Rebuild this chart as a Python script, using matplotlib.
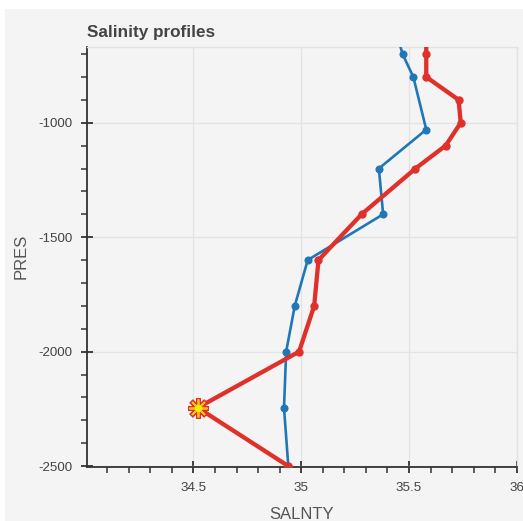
import matplotlib
matplotlib.use("Agg")
import matplotlib.pyplot as plt
from matplotlib.patches import Rectangle
from matplotlib.ticker import MultipleLocator

# salinity profiles (pressure negative = depth)
blue_pres = [-600, -700, -800, -1030, -1200, -1400, -1600, -1800, -2000, -2245, -2500]
blue_sal = [35.44, 35.47, 35.52, 35.58, 35.36, 35.38, 35.03, 34.97, 34.93, 34.92, 34.94]

red_pres = [-600, -700, -800, -900, -1000, -1100, -1200, -1400, -1600, -1800, -2000, -2245, -2500]
red_sal = [35.58, 35.58, 35.58, 35.73, 35.74, 35.67, 35.53, 35.28, 35.08, 35.06, 34.99, 34.52, 34.94]

# flagged sample
flag_sal = [34.52]
flag_pres = [-2245]

plt.rcParams["font.family"] = ["Liberation Sans", "DejaVu Sans"]
plt.rcParams["axes.unicode_minus"] = False

W, H = 523, 521
fig = plt.figure(figsize=(W / 100, H / 100), dpi=100)
fig.patch.set_facecolor("white")
fig.patches.append(Rectangle((5 / W, 0), 1, (H - 9) / H, transform=fig.transFigure,
                             facecolor="#f4f4f4", edgecolor="none", zorder=-5))

ax = fig.add_axes([87 / W, (H - 467) / H, 430 / W, 420.5 / H])
ax.set_facecolor("#f4f4f4")

ax.plot(blue_sal, blue_pres, color="#2077b8", lw=1.9, marker="o", ms=4.8, zorder=3)
ax.plot(red_sal, red_pres, color="#e0302a", lw=3.1, marker="o", ms=5, zorder=4)

# asterisk marker for the flagged value
ax.plot(flag_sal, flag_pres, ls="none", marker=(8, 2, 0), ms=15, mew=3.6,
        color="#e0302a", zorder=5)
ax.plot(flag_sal, flag_pres, ls="none", marker=(8, 2, 0), ms=13, mew=1.3,
        color="#f2c21b", zorder=6)
ax.plot(flag_sal, flag_pres, ls="none", marker="o", ms=5.5, color="#f0f000",
        mec="#e8c000", mew=0.5, zorder=7)

ax.set_xlim(34.006, 36.001)
ax.set_ylim(-2504, -667)

ax.xaxis.set_major_locator(MultipleLocator(0.5))
ax.xaxis.set_minor_locator(MultipleLocator(0.1))
ax.yaxis.set_major_locator(MultipleLocator(500))
ax.yaxis.set_minor_locator(MultipleLocator(100))
ax.xaxis.set_major_formatter(plt.FuncFormatter(lambda v, p: "{:g}".format(round(v, 2))))

ax.grid(True, which="major", color="#e3e3e3", lw=0.9, zorder=0)
ax.set_axisbelow(True)

for s in ["top", "right"]:
    ax.spines[s].set_color("#e2e2e2")
    ax.spines[s].set_linewidth(1.0)
for s in ["left", "bottom"]:
    ax.spines[s].set_color("#333333")
    ax.spines[s].set_linewidth(1.3)

ax.tick_params(which="major", direction="inout", length=8, width=1.3, color="#333333",
               labelsize=9.6, labelcolor="#444444")
ax.tick_params(which="minor", direction="out", length=4, width=1.1, color="#333333")
ax.tick_params(axis="y", which="major", pad=6.5)
ax.tick_params(axis="x", which="major", pad=7)

ax.set_xlabel("SALNTY", fontsize=12, color="#555555", labelpad=9)
ax.set_ylabel("PRES", fontsize=12, color="#555555", labelpad=7)
ax.set_title("Salinity profiles", loc="left", fontsize=12.3, fontweight="bold",
             color="#444444", pad=7)

fig.savefig("out.png", dpi=100, facecolor=fig.get_facecolor())
